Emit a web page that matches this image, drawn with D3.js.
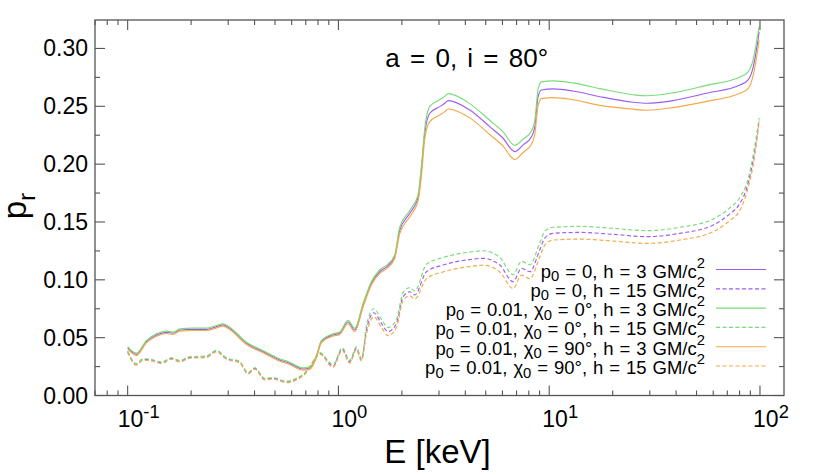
<!DOCTYPE html>
<html>
<head>
<meta charset="utf-8">
<script src="https://cdn.jsdelivr.net/npm/d3@7"></script>
<style>
  html, body { margin: 0; padding: 0; background: #fff; }
  svg { display: block; font-family: "Liberation Sans", Arial, Helvetica, sans-serif; }
</style>
</head>
<body>
<svg id="chart" width="830" height="475"></svg>
<script>
// ---------------- DATA ----------------
// h = 3 GM/c^2 (solid lines)
const energySolid = [0.100, 0.110, 0.1227, 0.137, 0.153, 0.164, 0.177, 0.204, 0.236, 0.264,
  0.283, 0.305, 0.366, 0.439, 0.526, 0.587, 0.679, 0.731, 0.786, 0.830,
  0.943, 1.014, 1.11, 1.195, 1.309, 1.434, 1.57, 1.69, 1.849, 1.954,
  2.18, 2.386, 2.477, 2.568, 2.713, 3.027, 3.196, 3.313, 4.198, 5.223,
  6.04, 6.865, 7.52, 8.24, 8.545, 8.86, 9.19, 10.43, 12.98, 17.38,
  25.0, 28.95, 38.7, 55.8, 80.3, 87.9, 92.9, 96.2, 99.1];
const prP0H3 = [0.0413, 0.0356, 0.0465, 0.0523, 0.0546, 0.0538, 0.0566, 0.0572, 0.0572, 0.0595,
  0.0610, 0.0581, 0.0451, 0.0379, 0.0307, 0.0278, 0.0229, 0.0235, 0.0336, 0.0465,
  0.0523, 0.0538, 0.0635, 0.0566, 0.0780, 0.0970, 0.1070, 0.1110, 0.1200, 0.1430,
  0.1575, 0.1710, 0.1950, 0.2267, 0.2440, 0.2497, 0.2526, 0.2549, 0.2468, 0.2324,
  0.2224, 0.2108, 0.2166, 0.2237, 0.2324, 0.2583, 0.2641, 0.2650, 0.2632, 0.2583,
  0.2535, 0.2526, 0.2549, 0.2613, 0.2684, 0.2728, 0.2840, 0.2987, 0.3145];
const prChi0H3 = [0.0423, 0.0366, 0.0475, 0.0533, 0.0556, 0.0548, 0.0576, 0.0582, 0.0582, 0.0605,
  0.0620, 0.0591, 0.0461, 0.0389, 0.0317, 0.0288, 0.0239, 0.0245, 0.0346, 0.0475,
  0.0533, 0.0548, 0.0650, 0.0581, 0.0795, 0.0985, 0.1085, 0.1125, 0.1215, 0.1455,
  0.1600, 0.1735, 0.1990, 0.2307, 0.2500, 0.2557, 0.2586, 0.2609, 0.2523, 0.2379,
  0.2279, 0.2163, 0.2216, 0.2287, 0.2374, 0.2653, 0.2711, 0.2720, 0.2702, 0.2653,
  0.2600, 0.2591, 0.2616, 0.2681, 0.2754, 0.2798, 0.2905, 0.3050, 0.3190];
const prChi90H3 = [0.0403, 0.0346, 0.0455, 0.0513, 0.0536, 0.0528, 0.0556, 0.0562, 0.0562, 0.0585,
  0.0600, 0.0571, 0.0441, 0.0369, 0.0297, 0.0268, 0.0219, 0.0225, 0.0326, 0.0455,
  0.0513, 0.0528, 0.0620, 0.0551, 0.0765, 0.0955, 0.1055, 0.1095, 0.1185, 0.1400,
  0.1545, 0.1680, 0.1900, 0.2217, 0.2368, 0.2425, 0.2454, 0.2477, 0.2400, 0.2256,
  0.2156, 0.2040, 0.2101, 0.2172, 0.2259, 0.2508, 0.2566, 0.2575, 0.2557, 0.2508,
  0.2475, 0.2466, 0.2489, 0.2543, 0.2612, 0.2655, 0.2770, 0.2915, 0.3070];

// h = 15 GM/c^2 (dashed lines)
const energyDashed = [0.100, 0.110, 0.1182, 0.1296, 0.1445, 0.1612, 0.1766, 0.197, 0.236, 0.2636,
  0.294, 0.340, 0.3724, 0.401, 0.4469, 0.4893, 0.5665, 0.632, 0.705, 0.758,
  0.815, 0.943, 1.042, 1.131, 1.217, 1.286, 1.358, 1.471, 1.60, 1.72,
  1.885, 2.026, 2.18, 2.30, 2.617, 3.137, 3.63, 4.05, 4.858, 5.83,
  6.74, 7.39, 8.09, 9.02, 9.53, 10.43, 13.97, 20.1, 28.95, 41.7,
  60.0, 71.9, 80.3, 86.4, 94.6, 99.1];
const prP0H15 = [0.0380, 0.0270, 0.0313, 0.0307, 0.0284, 0.0321, 0.0298, 0.0330, 0.0336, 0.0385,
  0.0321, 0.0290, 0.0192, 0.0235, 0.0143, 0.0149, 0.0119, 0.0143, 0.0206, 0.0292,
  0.0365, 0.0255, 0.0401, 0.0292, 0.0408, 0.0310, 0.0566, 0.0715, 0.0624, 0.0552,
  0.0624, 0.0854, 0.0897, 0.0869, 0.1070, 0.1128, 0.1157, 0.1171, 0.1186, 0.1128,
  0.0984, 0.1100, 0.1070, 0.1258, 0.1360, 0.1402, 0.1410, 0.1393, 0.1373, 0.1402,
  0.1474, 0.1570, 0.1660, 0.1790, 0.2122, 0.2380];
const prChi0H15 = [0.0385, 0.0275, 0.0318, 0.0312, 0.0289, 0.0326, 0.0303, 0.0335, 0.0341, 0.0390,
  0.0326, 0.0295, 0.0197, 0.0240, 0.0148, 0.0154, 0.0124, 0.0148, 0.0211, 0.0297,
  0.0370, 0.0267, 0.0413, 0.0304, 0.0420, 0.0322, 0.0601, 0.0750, 0.0659, 0.0587,
  0.0659, 0.0889, 0.0932, 0.0904, 0.1135, 0.1193, 0.1222, 0.1236, 0.1251, 0.1193,
  0.1044, 0.1160, 0.1130, 0.1318, 0.1420, 0.1454, 0.1462, 0.1445, 0.1425, 0.1454,
  0.1526, 0.1622, 0.1712, 0.1830, 0.2162, 0.2400];
const prChi90H15 = [0.0372, 0.0262, 0.0305, 0.0299, 0.0276, 0.0313, 0.0290, 0.0322, 0.0328, 0.0377,
  0.0313, 0.0282, 0.0184, 0.0227, 0.0135, 0.0141, 0.0111, 0.0135, 0.0198, 0.0284,
  0.0357, 0.0243, 0.0389, 0.0280, 0.0396, 0.0298, 0.0531, 0.0680, 0.0589, 0.0517,
  0.0589, 0.0819, 0.0862, 0.0834, 0.1010, 0.1068, 0.1097, 0.1111, 0.1126, 0.1068,
  0.0924, 0.1040, 0.1010, 0.1198, 0.1300, 0.1344, 0.1352, 0.1335, 0.1315, 0.1344,
  0.1416, 0.1512, 0.1602, 0.1750, 0.2082, 0.2370];

const legendLabels = [
  "p_0 = 0, h = 3 GM/c^2",
  "p_0 = 0, h = 15 GM/c^2",
  "p_0 = 0.01, χ_0 = 0°, h = 3 GM/c^2",
  "p_0 = 0.01, χ_0 = 0°, h = 15 GM/c^2",
  "p_0 = 0.01, χ_0 = 90°, h = 3 GM/c^2",
  "p_0 = 0.01, χ_0 = 90°, h = 15 GM/c^2"
];
const yTickValues = [0.00, 0.05, 0.10, 0.15, 0.20, 0.25, 0.30];
const xTickValues = [0.1, 1, 10, 100];
const xTickLabels = ["10^{-1}", "10^0", "10^1", "10^2"];
const titleText = "a = 0, i = 80°";
const xLabel = "E [keV]";
const yLabel = "p_r";

// ---------------- SERIES ----------------
const purple = "#9d5cf0", green = "#78dc78", orange = "#f5a848";
const series = [
  { x: energySolid,  y: prP0H3,     color: purple, dash: null },
  { x: energyDashed, y: prP0H15,    color: purple, dash: "4,2.5" },
  { x: energySolid,  y: prChi0H3,   color: green,  dash: null },
  { x: energyDashed, y: prChi0H15,  color: green,  dash: "4,2.5" },
  { x: energySolid,  y: prChi90H3,  color: orange, dash: null },
  { x: energyDashed, y: prChi90H15, color: orange, dash: "4,2.5" }
];

// ---------------- LAYOUT ----------------
const L = 95, R = 784, T = 20, B = 395.5;
const svg = d3.select("#chart");
const x = d3.scaleLog().domain([0.07, 130]).range([L, R]);
const y = d3.scaleLinear().domain([0, 0.3246]).range([B, T]);
const frameColor = "#555";

// enhanced-text helper: _x / ^x / _{..} / ^{..}
function enhanced(sel, str, subShift, supShift, scale) {
  let i = 0, cur = 0;
  const parts = [];
  let buf = "";
  while (i < str.length) {
    const c = str[i];
    if (c === "_" || c === "^") {
      if (buf) { parts.push({ t: buf, k: 0 }); buf = ""; }
      let g;
      if (str[i + 1] === "{") { const j = str.indexOf("}", i); g = str.slice(i + 2, j); i = j + 1; }
      else { g = str[i + 1]; i += 2; }
      parts.push({ t: g, k: c === "_" ? 1 : -1 });
    } else { buf += c; i++; }
  }
  if (buf) parts.push({ t: buf, k: 0 });
  parts.forEach(p => {
    const target = p.k === 1 ? subShift : (p.k === -1 ? -supShift : 0);
    const ts = sel.append("tspan").attr("dy", target - cur).text(p.t);
    if (p.k !== 0) ts.attr("font-size", scale + "em");
    cur = target;
  });
}

// curves
svg.append("clipPath").attr("id", "clip").append("rect")
  .attr("x", L).attr("y", T).attr("width", R - L).attr("height", B - T);
const gLines = svg.append("g").attr("clip-path", "url(#clip)");
series.forEach(s => {
  const pts = s.x.map((e, i) => [e, s.y[i]]);
  const line = d3.line().x(d => x(d[0])).y(d => y(d[1])).curve(d3.curveMonotoneX);
  gLines.append("path").attr("d", line(pts)).attr("fill", "none")
    .attr("stroke", s.color).attr("stroke-width", 1.15)
    .attr("stroke-dasharray", s.dash);
});

// frame
svg.append("rect").attr("x", L).attr("y", T).attr("width", R - L).attr("height", B - T)
  .attr("fill", "none").attr("stroke", frameColor).attr("stroke-width", 1.3);

// ticks
const gT = svg.append("g").attr("stroke", frameColor).attr("stroke-width", 1.1);
const majorLen = 10, minorLen = 5;
const yMinor = d3.range(0.025, 0.325, 0.05);
yTickValues.forEach(v => {
  gT.append("line").attr("x1", L).attr("x2", L + majorLen).attr("y1", y(v)).attr("y2", y(v));
  gT.append("line").attr("x1", R).attr("x2", R - majorLen).attr("y1", y(v)).attr("y2", y(v));
});
yMinor.forEach(v => {
  gT.append("line").attr("x1", L).attr("x2", L + minorLen).attr("y1", y(v)).attr("y2", y(v));
  gT.append("line").attr("x1", R).attr("x2", R - minorLen).attr("y1", y(v)).attr("y2", y(v));
});
const xMinor = x.ticks().filter(v => !xTickValues.includes(v) && v >= 0.07 && v <= 130);
xTickValues.forEach(v => {
  gT.append("line").attr("x1", x(v)).attr("x2", x(v)).attr("y1", B).attr("y2", B - majorLen);
  gT.append("line").attr("x1", x(v)).attr("x2", x(v)).attr("y1", T).attr("y2", T + majorLen);
});
xMinor.forEach(v => {
  gT.append("line").attr("x1", x(v)).attr("x2", x(v)).attr("y1", B).attr("y2", B - minorLen);
  gT.append("line").attr("x1", x(v)).attr("x2", x(v)).attr("y1", T).attr("y2", T + minorLen);
});

// tick labels
yTickValues.forEach(v => {
  svg.append("text").attr("x", L - 7).attr("y", y(v) + 8).attr("text-anchor", "end")
    .attr("font-size", 23).attr("fill", "#000").text(d3.format(".2f")(v));
});
xTickValues.forEach((v, i) => {
  const t = svg.append("text").attr("x", x(v) + 11).attr("y", 426.7)
    .attr("text-anchor", "middle").attr("font-size", 23).attr("fill", "#000");
  enhanced(t, xTickLabels[i], 4, 9, 0.8);
});

// axis labels
svg.append("text").attr("x", 437.5).attr("y", 463.3).attr("text-anchor", "middle")
  .attr("font-size", 33).attr("fill", "#000").text(xLabel);
const yl = svg.append("text").attr("transform", "translate(26,206) rotate(-90)")
  .attr("text-anchor", "middle").attr("font-size", 33).attr("fill", "#000");
enhanced(yl, yLabel, 8.5, 10, 0.75);

// title
svg.append("text").attr("x", 466.7).attr("y", 66.7).attr("text-anchor", "middle")
  .attr("font-size", 26).attr("word-spacing", 3).attr("fill", "#000").text(titleText);

// legend
const legTop = 269.5, legStep = 19.3;
legendLabels.forEach((lab, i) => {
  const s = series[i];
  const yy = legTop + i * legStep;
  const t = svg.append("text").attr("x", 705).attr("y", yy + 8).attr("text-anchor", "end")
    .attr("font-size", 18.5).attr("word-spacing", 0.8).attr("fill", "#000");
  enhanced(t, lab, 3.5, 10, 0.8);
  svg.append("line").attr("x1", 716).attr("x2", 766).attr("y1", yy).attr("y2", yy)
    .attr("stroke", s.color).attr("stroke-width", 1.15).attr("stroke-dasharray", s.dash);
});
</script>
</body>
</html>
